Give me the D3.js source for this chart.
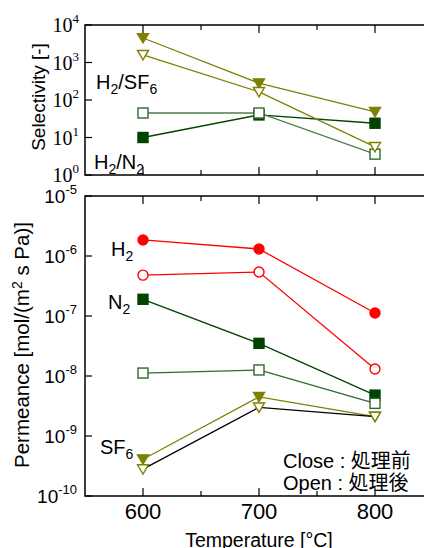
<!DOCTYPE html>
<html>
<head>
<meta charset="utf-8">
<script src="https://cdn.jsdelivr.net/npm/d3@7"></script>
<style>
  body { margin: 0; background: #fff; }
  svg { display: block; }
</style>
</head>
<body>
<div id="chart"></div>
<script>
// Data
var temps = [600, 700, 800]

var selH2SF6Close = [4500, 280, 48]
var selH2SF6Open = [1600, 165, 5.6]
var selH2N2Close = [10, 40, 24]
var selH2N2Open = [45, 45, 3.6]

var permH2Close = [1.85e-6, 1.31e-6, 1.12e-7]
var permH2Open = [4.8e-7, 5.4e-7, 1.31e-8]
var permN2Close = [1.9e-7, 3.5e-8, 4.8e-9]
var permN2Open = [1.12e-8, 1.26e-8, 3.5e-9]
var permSF6Close = [4.1e-10, 4.5e-9, 2.1e-9]
var permSF6Open = [2.8e-10, 3.0e-9, 2.1e-9]

var xTicks = [600, 700, 800]
var xMinor = [650, 750]
var selTicks = [0, 1, 2, 3, 4]
var permTicks = [-10, -9, -8, -7, -6, -5]

var olive = "#808000", red = "#ff0000", dkgreen = "#004400", green = "#2f6a2f"

var svg = d3.select("#chart").append("svg")
  .attr("width", 424).attr("height", 548)

var x = d3.scaleLinear().domain([550, 850]).range([85, 433])
var ySel = d3.scaleLog().domain([1, 1e4]).range([175, 25])
var yPerm = d3.scaleLog().domain([1e-10, 1e-5]).range([496, 196])

// Frame + ticks for one panel
function frame(y, ticks, serif) {
  var top = y.range()[1], bot = y.range()[0]
  var g = svg.append("g")
  g.append("path")
    .attr("d", "M433," + top + "H85V" + bot + "H433")
    .attr("fill", "none").attr("stroke", "#000").attr("stroke-width", 1.5)
  xTicks.concat(xMinor).forEach(function(t) {
    var len = xTicks.indexOf(t) >= 0 ? 8 : 5
    g.append("line").attr("x1", x(t)).attr("x2", x(t))
      .attr("y1", top).attr("y2", top + len).attr("stroke", "#000").attr("stroke-width", 1.2)
    g.append("line").attr("x1", x(t)).attr("x2", x(t))
      .attr("y1", bot).attr("y2", bot - len).attr("stroke", "#000").attr("stroke-width", 1.2)
  })
  ticks.forEach(function(e) {
    var yy = y(Math.pow(10, e))
    g.append("line").attr("x1", 85).attr("x2", 92)
      .attr("y1", yy).attr("y2", yy).attr("stroke", "#000").attr("stroke-width", 1.2)
    var t = g.append("text")
      .attr("x", serif ? 79 : 77).attr("y", yy + 7)
      .attr("text-anchor", "end")
      .style("font-family", serif ? "Liberation Serif" : "Liberation Sans")
      .style("font-size", serif ? "20px" : "19px")
    t.append("tspan").text("10")
    t.append("tspan").attr("dy", -9).style("font-size", "13px").text(e)
  })
}

frame(ySel, selTicks, true)
frame(yPerm, permTicks, false)

// Markers
function downTri(s) {
  return "M" + (-s) + "," + (-s * 0.8) + "L" + s + "," + (-s * 0.8) + "L0," + (s * 0.9) + "Z"
}

function series(y, vals, lineColor, shape, fill, stroke) {
  var pts = temps.map(function(t, i) { return [x(t), y(vals[i])] })
  svg.append("path")
    .attr("d", d3.line()(pts))
    .attr("fill", "none").attr("stroke", lineColor).attr("stroke-width", 1.3)
  var g = svg.append("g")
  pts.forEach(function(p) {
    if (shape == "circle") {
      g.append("circle").attr("cx", p[0]).attr("cy", p[1]).attr("r", 5)
        .attr("fill", fill).attr("stroke", stroke).attr("stroke-width", 1.4)
    } else if (shape == "square") {
      g.append("rect").attr("x", p[0] - 5).attr("y", p[1] - 5)
        .attr("width", 10).attr("height", 10)
        .attr("fill", fill).attr("stroke", stroke).attr("stroke-width", 1.4)
    } else {
      g.append("path").attr("d", downTri(5.5))
        .attr("transform", "translate(" + p[0] + "," + p[1] + ")")
        .attr("fill", fill).attr("stroke", stroke).attr("stroke-width", 1.4)
    }
  })
}

// Selectivity panel
series(ySel, selH2N2Close, dkgreen, "square", dkgreen, dkgreen)
series(ySel, selH2N2Open, "#4c7f4c", "square", "#fff", green)
series(ySel, selH2SF6Close, olive, "tri", olive, olive)
series(ySel, selH2SF6Open, olive, "tri", "#fff", olive)

// Permeance panel
series(yPerm, permSF6Close, olive, "tri", olive, olive)
series(yPerm, permSF6Open, "#000", "tri", "#fff", olive)
series(yPerm, permN2Close, dkgreen, "square", dkgreen, dkgreen)
series(yPerm, permN2Open, green, "square", "#fff", green)
series(yPerm, permH2Close, red, "circle", red, red)
series(yPerm, permH2Open, red, "circle", "#fff", red)

// Text labels
var sans = "Liberation Sans"
function label(px, py, parts, size) {
  var t = svg.append("text").attr("x", px).attr("y", py)
    .style("font-family", sans).style("font-size", size + "px")
  parts.forEach(function(p) {
    if (p.sub) {
      t.append("tspan").attr("dy", 5).style("font-size", (size * 0.7) + "px").text(p.t)
    } else {
      t.append("tspan").attr("dy", p.back ? -5 : 0).text(p.t)
    }
  })
  return t
}

label(96, 89, [{t: "H"}, {t: "2", sub: true}, {t: "/SF", back: true}, {t: "6", sub: true}], 20)
label(94, 169, [{t: "H"}, {t: "2", sub: true}, {t: "/N", back: true}, {t: "2", sub: true}], 20)
label(111, 256, [{t: "H"}, {t: "2", sub: true}], 20)
label(108, 309, [{t: "N"}, {t: "2", sub: true}], 20)
label(100, 454, [{t: "SF"}, {t: "6", sub: true}], 20)

svg.append("text").attr("x", 283).attr("y", 468)
  .style("font-family", "Liberation Sans, Noto Sans CJK JP").style("font-size", "20px")
  .text("Close : 処理前")
svg.append("text").attr("x", 283).attr("y", 490)
  .style("font-family", "Liberation Sans, Noto Sans CJK JP").style("font-size", "20px")
  .text("Open : 処理後")

// X tick labels
xTicks.forEach(function(t) {
  svg.append("text").attr("x", x(t)).attr("y", 519)
    .attr("text-anchor", "middle")
    .style("font-family", sans).style("font-size", "22px")
    .text(t)
})

svg.append("text").attr("x", 259).attr("y", 547)
  .attr("text-anchor", "middle")
  .style("font-family", sans).style("font-size", "19.5px")
  .text("Temperature [°C]")

// Y titles
svg.append("text")
  .attr("transform", "translate(45,97) rotate(-90)")
  .attr("text-anchor", "middle")
  .style("font-family", sans).style("font-size", "19px")
  .text("Selectivity [-]")

var pt = svg.append("text")
  .attr("transform", "translate(29,345) rotate(-90)")
  .attr("text-anchor", "middle")
  .style("font-family", sans).style("font-size", "20.5px")
pt.append("tspan").text("Permeance [mol/(m")
pt.append("tspan").attr("dy", -7).style("font-size", "14px").text("2")
pt.append("tspan").attr("dy", 7).text(" s Pa)]")
</script>
</body>
</html>
